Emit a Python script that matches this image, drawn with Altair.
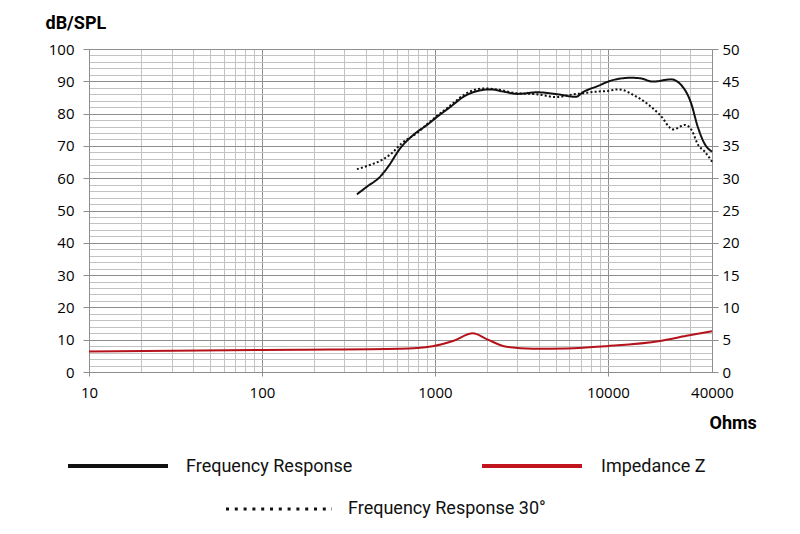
import altair as alt
import pandas as pd

# ---- data ----
fr_freq = [354, 405, 483, 537, 631, 750, 901, 1030, 1230, 1462, 1757, 2098, 2494, 2997,
           3910, 5105, 6518, 7260, 8710, 10400, 13590, 15530, 18160, 23170, 26490, 30290,
           33100, 36140, 40000]
fr_db = [55.0, 57.4, 60.5, 63.6, 69.3, 73.4, 76.5, 79.0, 82.1, 85.2, 87.0, 87.5, 86.8, 86.1,
         86.6, 86.0, 85.2, 86.8, 88.5, 90.2, 91.1, 90.9, 89.9, 90.6, 88.9, 83.2,
         75.9, 70.8, 68.2]

fr30_freq = [354, 421, 492, 562, 642, 784, 935, 1169, 1593, 1902, 2274, 2960, 3870, 5050,
             6030, 7200, 8600, 10280, 11220, 12220, 14000, 16750, 20000, 23870, 27860,
             30480, 33270, 36380, 40000]
fr30_db = [62.8, 64.1, 65.6, 67.7, 70.8, 73.9, 77.5, 81.6, 86.8, 87.8, 87.5, 86.3, 86.0, 85.1,
           85.8, 86.3, 86.8, 87.1, 87.5, 87.3, 85.8, 83.2, 79.6, 75.1, 76.5,
           74.9, 70.3, 68.2, 65.1]

imp_freq = [10, 100, 166, 628, 970, 1271, 1660, 1990, 2596, 3684, 5770, 9840, 20000, 28500, 40000]
imp_ohm = [3.16, 3.4, 3.45, 3.6, 4.0, 4.8, 6.0, 5.1, 3.9, 3.6, 3.65, 4.0, 4.8, 5.6, 6.3]

series_names = ["Frequency Response", "Frequency Response 30°"]
legend_labels = ["Frequency Response", "Impedance Z", "Frequency Response 30°"]

x_ticks = [m * 10 ** e for e in range(1, 5) for m in range(1, 10) if m * 10 ** e <= 40000]
x_labels = [10, 100, 1000, 10000, 40000]
y_ticks = list(range(0, 101, 2))
y2_ticks = list(range(0, 51, 5))

fr_df = pd.DataFrame({
    "freq": fr_freq + fr30_freq,
    "db": fr_db + fr30_db,
    "series": [series_names[0]] * len(fr_freq) + [series_names[1]] * len(fr30_freq),
})
imp_df = pd.DataFrame({"freq": imp_freq, "ohm": imp_ohm})

TICK_FONT = "Open Sans"
COND_FONT = "Roboto"
MAJOR = "#8e8e8e"
MINOR = "#c2c2c2"
RED = "#b5121b"

x_major_test = "indexof([10,100,1000,10000], datum.value) >= 0"
x_label_test = "indexof(" + str(x_labels) + ", datum.value) >= 0"

x_enc = alt.X(
    "freq:Q",
    scale=alt.Scale(type="log", domain=[10, 40000], nice=False),
    axis=alt.Axis(
        values=x_ticks,
        title="Ohms",
        titleFont=COND_FONT, titleFontSize=18, titleFontWeight="bold", titleColor="#000",
        titleAngle=0, titleAlign="left", titleBaseline="alphabetic",
        titleX=620, titleY=56,
        labelExpr=x_label_test + " ? format(datum.value, 'd') : ''",
        labelOverlap=False, labelFlush=False,
        labelFont=TICK_FONT, labelFontSize=15, labelColor="#000", labelPadding=9,
        gridColor={"condition": {"test": x_major_test, "value": MAJOR}, "value": MINOR},
        tickOpacity={"condition": {"test": x_major_test, "value": 1}, "value": 0},
        tickSize=4, tickColor=MAJOR, domainColor=MAJOR,
    ),
)

y_major_test = "datum.value % 10 === 0"
y_enc = alt.Y(
    "db:Q",
    scale=alt.Scale(domain=[0, 100], nice=False),
    axis=alt.Axis(
        orient="left",
        values=y_ticks,
        title="dB/SPL",
        titleFont=COND_FONT, titleFontSize=18, titleFontWeight="bold", titleColor="#000",
        titleAngle=0, titleAlign="left", titleBaseline="alphabetic",
        titleX=-44, titleY=-21,
        labelExpr=y_major_test + " ? datum.label : ''",
        labelOverlap=False, labelFlush=False,
        labelFont=TICK_FONT, labelFontSize=15, labelColor="#000", labelPadding=9,
        gridColor={"condition": {"test": y_major_test, "value": MAJOR}, "value": MINOR},
        tickOpacity={"condition": {"test": y_major_test, "value": 1}, "value": 0},
        tickSize=6, tickColor=MAJOR, domainColor=MAJOR,
    ),
)

fr = alt.Chart(fr_df).mark_line(color="#111", strokeWidth=2, interpolate="monotone").encode(
    x=x_enc,
    y=y_enc,
    strokeDash=alt.StrokeDash(
        "series:N",
        scale=alt.Scale(domain=series_names, range=[[1, 0], [2, 2.2]]),
        legend=None,
    ),
)

imp = alt.Chart(imp_df).mark_line(color=RED, strokeWidth=2, interpolate="monotone").encode(
    x=x_enc,
    y=alt.Y(
        "ohm:Q",
        scale=alt.Scale(domain=[0, 50], nice=False),
        axis=alt.Axis(
            orient="right", values=y2_ticks, grid=False, title=None,
            labelFont=TICK_FONT, labelFontSize=15, labelColor="#000", labelPadding=4,
            labelFlush=False, labelOverlap=False,
            tickSize=6, tickColor=MAJOR, domainColor=MAJOR,
        ),
    ),
)


def legend_item(label, x1, x2, y, color, width, dash, tx, ty):
    d = pd.DataFrame({"label": [label]})
    rule_kwargs = dict(color=color, strokeWidth=width)
    if dash:
        rule_kwargs["strokeDash"] = dash
    rule = alt.Chart(d).mark_rule(**rule_kwargs).encode(
        x=alt.value(x1), x2=alt.value(x2), y=alt.value(y)
    )
    text = alt.Chart(d).mark_text(
        align="left", baseline="alphabetic", font=COND_FONT, fontSize=18, color="#111"
    ).encode(x=alt.value(tx), y=alt.value(ty), text="label:N")
    return [rule, text]


legend = (
    legend_item(legend_labels[0], -21, 79, 417, "#111", 4, None, 97, 423)
    + legend_item(legend_labels[1], 393, 493, 417, "#c0141e", 4, None, 512, 423)
    + legend_item(legend_labels[2], 137, 243, 460, "#111", 3, [3, 5.8], 259, 465)
)

chart = alt.layer(fr, imp, *legend).resolve_scale(y="independent").properties(
    width=623,
    height=323,
    autosize=alt.AutoSizeParams(type="none"),
    padding={"left": 81, "top": 41, "right": 80, "bottom": 148},
    background="white",
).configure_view(stroke="transparent")

chart.save("out.html", embed_options={"renderer": "svg", "actions": False})
